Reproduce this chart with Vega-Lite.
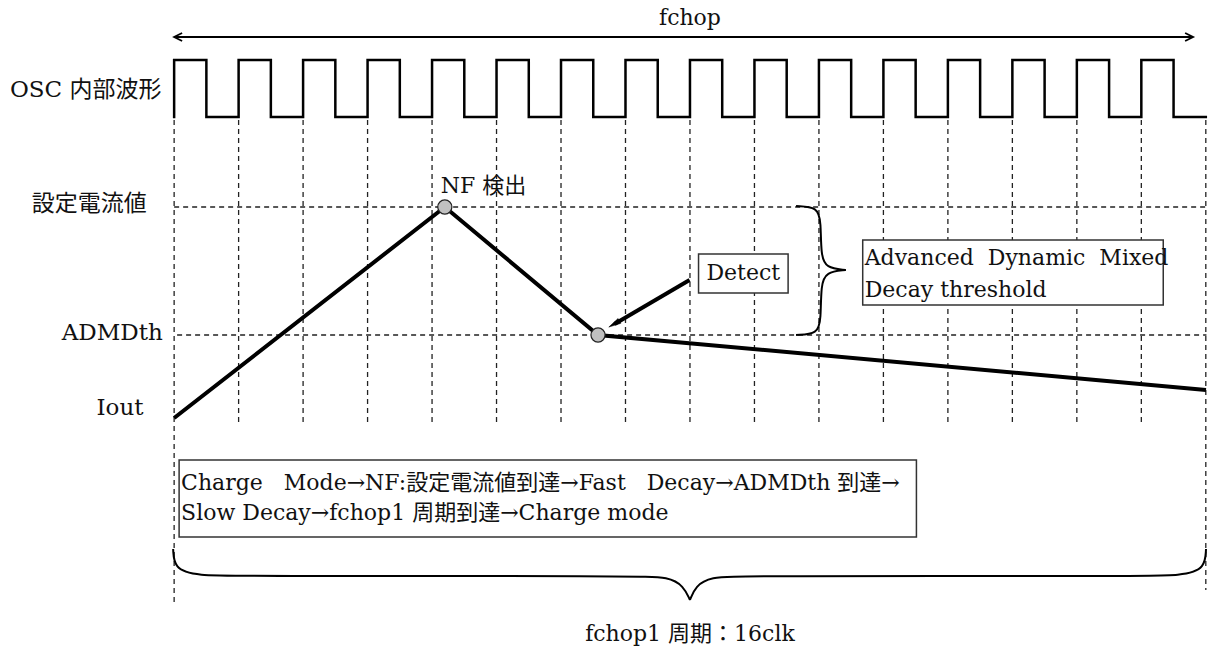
{
  "$schema": "https://vega.github.io/schema/vega-lite/v6.json",
  "width": 1214,
  "height": 652,
  "autosize": {"type": "fit", "contains": "padding"},
  "padding": 0,
  "background": "white",
  "config": {"view": {"stroke": null}, "text": {"font": "DejaVu Serif, Noto Sans CJK JP", "fontSize": 22, "color": "#111"}},
  "datasets": {
    "wave": [
      {"i":0,"x":0,"y":117},{"i":1,"x":0,"y":60},{"i":2,"x":0.5,"y":117},{"i":3,"x":1,"y":60},{"i":4,"x":1.5,"y":117},
      {"i":5,"x":2,"y":60},{"i":6,"x":2.5,"y":117},{"i":7,"x":3,"y":60},{"i":8,"x":3.5,"y":117},{"i":9,"x":4,"y":60},
      {"i":10,"x":4.5,"y":117},{"i":11,"x":5,"y":60},{"i":12,"x":5.5,"y":117},{"i":13,"x":6,"y":60},{"i":14,"x":6.5,"y":117},
      {"i":15,"x":7,"y":60},{"i":16,"x":7.5,"y":117},{"i":17,"x":8,"y":60},{"i":18,"x":8.5,"y":117},{"i":19,"x":9,"y":60},
      {"i":20,"x":9.5,"y":117},{"i":21,"x":10,"y":60},{"i":22,"x":10.5,"y":117},{"i":23,"x":11,"y":60},{"i":24,"x":11.5,"y":117},
      {"i":25,"x":12,"y":60},{"i":26,"x":12.5,"y":117},{"i":27,"x":13,"y":60},{"i":28,"x":13.5,"y":117},{"i":29,"x":14,"y":60},
      {"i":30,"x":14.5,"y":117},{"i":31,"x":15,"y":60},{"i":32,"x":15.5,"y":117},{"i":33,"x":16,"y":117}
    ],
    "vlines": [
      {"x":0,"y":120,"y2":605},{"x":1,"y":120,"y2":425},{"x":2,"y":120,"y2":425},{"x":3,"y":120,"y2":425},
      {"x":4,"y":120,"y2":425},{"x":5,"y":120,"y2":425},{"x":6,"y":120,"y2":425},{"x":7,"y":120,"y2":425},
      {"x":8,"y":120,"y2":425},{"x":9,"y":120,"y2":425},{"x":10,"y":120,"y2":425},{"x":11,"y":120,"y2":425},
      {"x":12,"y":120,"y2":425},{"x":13,"y":120,"y2":425},{"x":14,"y":120,"y2":425},{"x":15,"y":120,"y2":425},
      {"x":16,"y":120,"y2":590}
    ],
    "hlines": [
      {"x":0,"x2":16.01,"y":207},
      {"x":0.046,"x2":16.01,"y":335}
    ],
    "current": [
      {"i":0,"x":0,"y":418},{"i":1,"x":4.198,"y":207},{"i":2,"x":6.574,"y":335},{"i":3,"x":16.003,"y":390}
    ],
    "dots": [
      {"x":4.198,"y":207},{"x":6.574,"y":335}
    ],
    "boxes": [
      {"x":8.133,"x2":9.522,"y":254,"y2":293},
      {"x":10.679,"x2":15.34,"y":240,"y2":305},
      {"x":0.0772,"x2":11.512,"y":460,"y2":537}
    ],
    "braces": [
      {"part":"r1","i":0,"x":9.6451,"y":206},{"part":"r1","i":1,"x":9.9846,"y":207},{"part":"r1","i":2,"x":10.0309,"y":222},
      {"part":"r1","i":3,"x":10.0309,"y":255},{"part":"r1","i":4,"x":10.108,"y":268},{"part":"r1","i":5,"x":10.4167,"y":270},
      {"part":"r2","i":0,"x":9.6451,"y":335},{"part":"r2","i":1,"x":9.9846,"y":334},{"part":"r2","i":2,"x":10.0309,"y":319},
      {"part":"r2","i":3,"x":10.0309,"y":285},{"part":"r2","i":4,"x":10.108,"y":272},{"part":"r2","i":5,"x":10.4167,"y":270},
      {"part":"b1","i":0,"x":-0.0154,"y":549},{"part":"b1","i":1,"x":0,"y":568},{"part":"b1","i":2,"x":0.3086,"y":576},
      {"part":"b1","i":3,"x":1.3117,"y":576},{"part":"b1","i":4,"x":7.1759,"y":576},{"part":"b1","i":5,"x":7.6698,"y":577},
      {"part":"b1","i":6,"x":7.9012,"y":586},{"part":"b1","i":7,"x":8,"y":600},
      {"part":"b2","i":0,"x":16.0031,"y":549},{"part":"b2","i":1,"x":15.9877,"y":568},{"part":"b2","i":2,"x":15.679,"y":576},
      {"part":"b2","i":3,"x":14.6759,"y":576},{"part":"b2","i":4,"x":8.8117,"y":576},{"part":"b2","i":5,"x":8.3179,"y":577},
      {"part":"b2","i":6,"x":8.0864,"y":586},{"part":"b2","i":7,"x":8,"y":600}
    ],
    "topArrow": [{"x":0.02,"x2":15.80,"y":37}],
    "topHeads": [{"x":0.0617,"y":37,"angle":0},{"x":15.741,"y":37,"angle":180}],
    "detectArrow": [{"i":0,"x":7.994,"y":280},{"i":1,"x":6.83,"y":324}],
    "detectHead": [{"x":6.824,"y":324,"angle":150}],
    "sideLabels": [
      {"x":-2.546,"y":90,"label":"OSC 内部波形"},
      {"x":-2.2068,"y":204,"label":"設定電流値"},
      {"x":-1.7438,"y":333,"label":"ADMDth"},
      {"x":-1.2037,"y":408,"label":"Iout"}
    ],
    "leftText": [
      {"x":4.136,"y":186,"label":"NF 検出"},
      {"x":10.71,"y":258,"label":"Advanced\u00a0 Dynamic\u00a0 Mixed"},
      {"x":10.71,"y":290,"label":"Decay threshold"},
      {"x":0.108,"y":483,"label":"Charge\u00a0\u00a0 Mode→NF:設定電流値到達→Fast\u00a0\u00a0 Decay→ADMDth 到達→"},
      {"x":0.108,"y":513,"label":"Slow Decay→fchop1 周期到達→Charge mode"}
    ],
    "centerText": [
      {"x":8,"y":18,"label":"fchop"},
      {"x":8.827,"y":273,"label":"Detect"},
      {"x":8,"y":634,"label":"fchop1 周期：16clk"}
    ]
  },
  "layer": [
    {
      "data": {"name": "vlines"},
      "mark": {"type": "rule", "color": "#222", "strokeWidth": 1.3, "strokeDash": [5, 4]},
      "encoding": {
        "x": {"field": "x", "type": "quantitative", "axis": null, "scale": {"domain": [-2.7006, 16.034], "nice": false, "zero": false}},
        "y": {"field": "y", "type": "quantitative", "axis": null, "scale": {"domain": [0, 652], "reverse": true, "nice": false, "zero": false}},
        "y2": {"field": "y2"}
      }
    },
    {
      "data": {"name": "hlines"},
      "mark": {"type": "rule", "color": "#222", "strokeWidth": 1.3, "strokeDash": [5, 4]},
      "encoding": {
        "x": {"field": "x", "type": "quantitative"},
        "x2": {"field": "x2"},
        "y": {"field": "y", "type": "quantitative"}
      }
    },
    {
      "data": {"name": "wave"},
      "mark": {"type": "line", "interpolate": "step-after", "color": "#000", "strokeWidth": 2.5, "strokeJoin": "miter", "strokeCap": "square"},
      "encoding": {
        "x": {"field": "x", "type": "quantitative"},
        "y": {"field": "y", "type": "quantitative"},
        "order": {"field": "i", "type": "quantitative"}
      }
    },
    {
      "data": {"name": "boxes"},
      "mark": {"type": "rect", "fill": "white", "stroke": "#333", "strokeWidth": 1.5},
      "encoding": {
        "x": {"field": "x", "type": "quantitative"},
        "x2": {"field": "x2"},
        "y": {"field": "y", "type": "quantitative"},
        "y2": {"field": "y2"}
      }
    },
    {
      "data": {"name": "current"},
      "mark": {"type": "line", "color": "#000", "strokeWidth": 4},
      "encoding": {
        "x": {"field": "x", "type": "quantitative"},
        "y": {"field": "y", "type": "quantitative"},
        "order": {"field": "i", "type": "quantitative"}
      }
    },
    {
      "data": {"name": "dots"},
      "mark": {"type": "point", "shape": "circle", "filled": true, "fill": "#c0c0c0", "stroke": "#222", "strokeWidth": 1.2, "size": 200, "opacity": 1},
      "encoding": {
        "x": {"field": "x", "type": "quantitative"},
        "y": {"field": "y", "type": "quantitative"}
      }
    },
    {
      "data": {"name": "braces"},
      "mark": {"type": "line", "interpolate": "basis", "color": "#000", "strokeWidth": 2},
      "encoding": {
        "x": {"field": "x", "type": "quantitative"},
        "y": {"field": "y", "type": "quantitative"},
        "detail": {"field": "part", "type": "nominal"},
        "order": {"field": "i", "type": "quantitative"}
      }
    },
    {
      "data": {"name": "topArrow"},
      "mark": {"type": "rule", "color": "#000", "strokeWidth": 2},
      "encoding": {
        "x": {"field": "x", "type": "quantitative"},
        "x2": {"field": "x2"},
        "y": {"field": "y", "type": "quantitative"}
      }
    },
    {
      "data": {"name": "topHeads"},
      "mark": {"type": "point", "shape": "M 1 -1 L -1 0 L 1 1", "filled": false, "stroke": "#000", "strokeWidth": 1.8, "size": 64, "opacity": 1},
      "encoding": {
        "x": {"field": "x", "type": "quantitative"},
        "y": {"field": "y", "type": "quantitative"},
        "angle": {"field": "angle", "type": "quantitative", "scale": null}
      }
    },
    {
      "data": {"name": "detectArrow"},
      "mark": {"type": "line", "color": "#000", "strokeWidth": 4},
      "encoding": {
        "x": {"field": "x", "type": "quantitative"},
        "y": {"field": "y", "type": "quantitative"},
        "order": {"field": "i", "type": "quantitative"}
      }
    },
    {
      "data": {"name": "detectHead"},
      "mark": {"type": "point", "shape": "M -1 -0.45 L 1 0 L -1 0.45 Z", "filled": true, "fill": "#000", "stroke": "#000", "strokeWidth": 0.5, "size": 150, "opacity": 1},
      "encoding": {
        "x": {"field": "x", "type": "quantitative"},
        "y": {"field": "y", "type": "quantitative"},
        "angle": {"field": "angle", "type": "quantitative", "scale": null}
      }
    },
    {
      "data": {"name": "sideLabels"},
      "mark": {"type": "text", "align": "left", "baseline": "middle", "fontSize": 23},
      "encoding": {
        "x": {"field": "x", "type": "quantitative"},
        "y": {"field": "y", "type": "quantitative"},
        "text": {"field": "label"}
      }
    },
    {
      "data": {"name": "leftText"},
      "mark": {"type": "text", "align": "left", "baseline": "middle"},
      "encoding": {
        "x": {"field": "x", "type": "quantitative"},
        "y": {"field": "y", "type": "quantitative"},
        "text": {"field": "label"}
      }
    },
    {
      "data": {"name": "centerText"},
      "mark": {"type": "text", "align": "center", "baseline": "middle"},
      "encoding": {
        "x": {"field": "x", "type": "quantitative"},
        "y": {"field": "y", "type": "quantitative"},
        "text": {"field": "label"}
      }
    }
  ]
}
